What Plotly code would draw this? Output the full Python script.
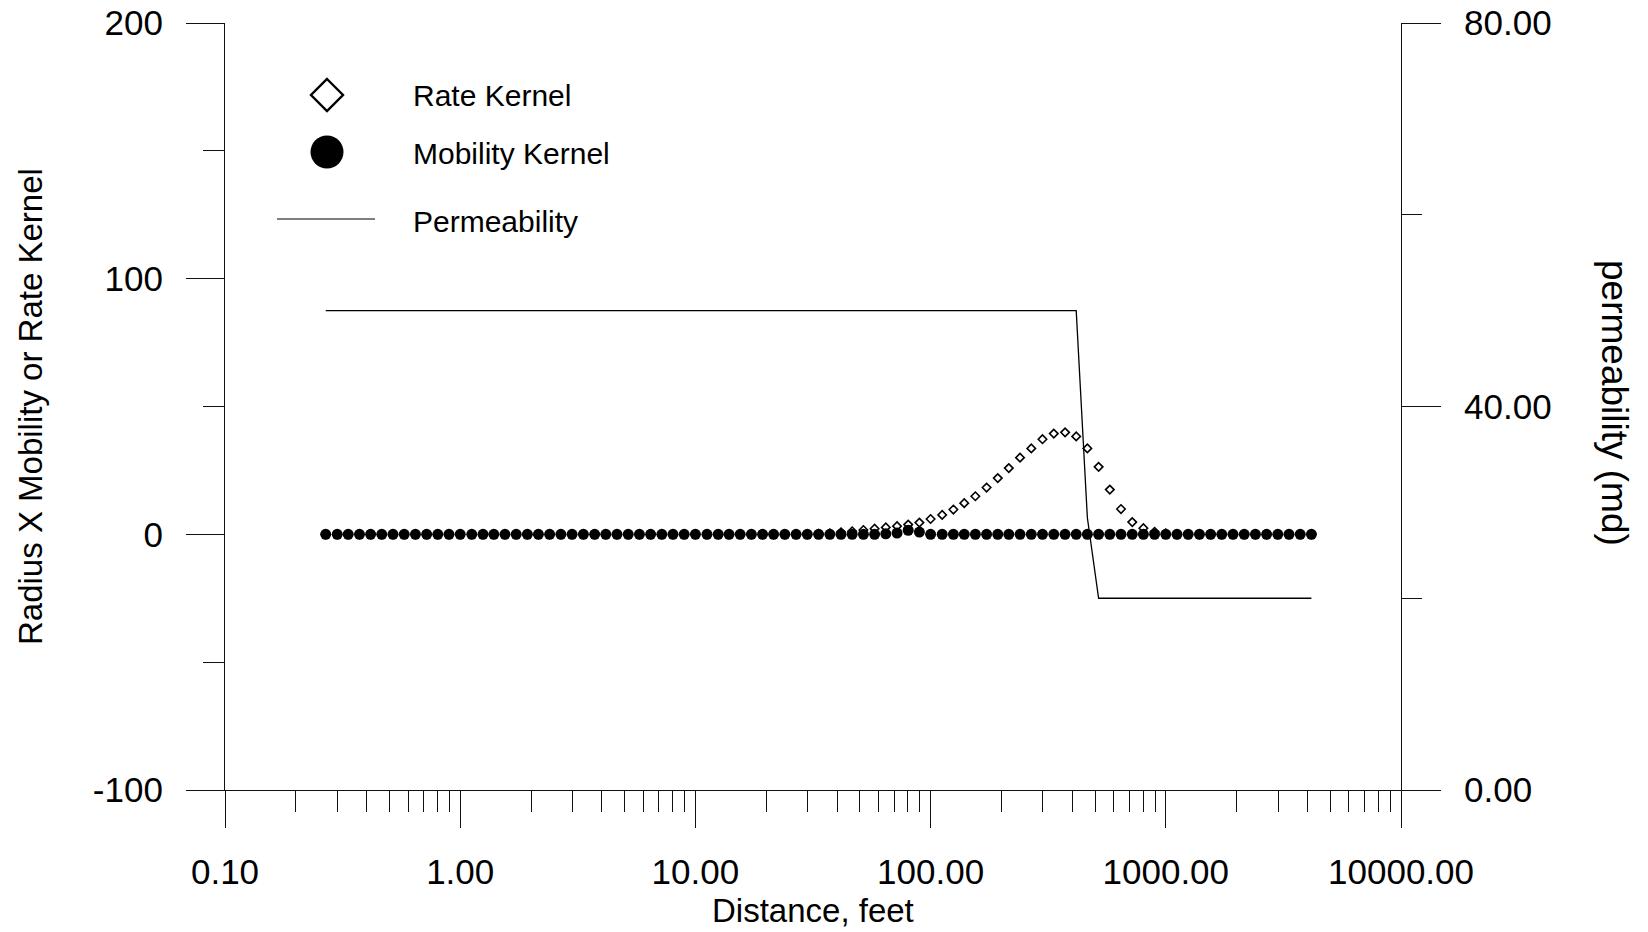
import plotly.graph_objects as go

# Radial distance from the well, feet (log-spaced grid, ~21 points per decade)
distance = [
    0.268, 0.300, 0.334, 0.373, 0.416, 0.464, 0.518, 0.578, 0.645, 0.720, 0.803, 0.896,
    1.00, 1.12, 1.25, 1.39, 1.55, 1.73, 1.93, 2.15, 2.40, 2.68, 2.99, 3.34, 3.73, 4.16,
    4.64, 5.18, 5.78, 6.45, 7.20, 8.03, 8.96,
    10.0, 11.2, 12.5, 13.9, 15.5, 17.3, 19.3, 21.5, 24.0, 26.8, 29.9, 33.4, 37.3, 41.6,
    46.4, 51.8, 57.8, 64.5, 72.0, 80.3, 89.6,
    100, 112, 125, 139, 155, 173, 193, 215, 240, 268, 299, 334, 373, 416,
    464, 518, 578, 645, 720, 803, 896,
    1000, 1116, 1245, 1390, 1551, 1730, 1931, 2155, 2404, 2683, 2994, 3341, 3728, 4160,
]

# Radius x rate kernel
rate_kernel = [
    0, 0, 0, 0, 0, 0, 0, 0, 0, 0, 0, 0,
    0, 0, 0, 0, 0, 0, 0, 0, 0, 0, 0, 0, 0, 0,
    0, 0, 0, 0, 0, 0, 0,
    0, 0, 0, 0, 0, 0, 0, 0, 0, 0, 0, 0.2, 0.4, 0.8,
    1.2, 1.7, 2.2, 2.7, 3.2, 3.8, 4.6,
    6.0, 7.6, 9.7, 12.2, 14.9, 18.3, 22.0, 25.9, 30.0, 33.6, 37.2, 39.4, 39.9, 38.3,
    33.6, 26.4, 17.5, 9.9, 4.8, 2.4, 1.0,
    0.4, 0, 0, 0, 0, 0, 0, 0, 0, 0, 0, 0, 0, 0,
]

# Radius x mobility kernel
mobility_kernel = [
    0, 0, 0, 0, 0, 0, 0, 0, 0, 0, 0, 0,
    0, 0, 0, 0, 0, 0, 0, 0, 0, 0, 0, 0, 0, 0,
    0, 0, 0, 0, 0, 0, 0,
    0, 0, 0, 0, 0, 0, 0, 0, 0, 0, 0, 0, 0, 0,
    0, 0, 0, 0.2, 0.5, 1.6, 0.9,
    0, 0, 0, 0, 0, 0, 0, 0, 0, 0, 0, 0, 0, 0,
    0, 0, 0, 0, 0, 0, 0,
    0, 0, 0, 0, 0, 0, 0, 0, 0, 0, 0, 0, 0, 0,
]

# Permeability profile, md
permeability = [
    50, 50, 50, 50, 50, 50, 50, 50, 50, 50, 50, 50,
    50, 50, 50, 50, 50, 50, 50, 50, 50, 50, 50, 50, 50, 50,
    50, 50, 50, 50, 50, 50, 50,
    50, 50, 50, 50, 50, 50, 50, 50, 50, 50, 50, 50, 50, 50,
    50, 50, 50, 50, 50, 50, 50,
    50, 50, 50, 50, 50, 50, 50, 50, 50, 50, 50, 50, 50, 50,
    28.4, 20, 20, 20, 20, 20, 20,
    20, 20, 20, 20, 20, 20, 20, 20, 20, 20, 20, 20, 20, 20,
]

x_major = [0.1, 1, 10, 100, 1000, 10000]
x_labels = ["0.10", "1.00", "10.00", "100.00", "1000.00", "10000.00"]
x_minor = [m * d for d in (0.1, 1, 10, 100, 1000) for m in range(2, 10)]

y_major = [-100, 0, 100, 200]
y_labels = ["-100", "0", "100", "200"]
y_minor = [-50, 50, 150]
y2_major = [0, 40, 80]
y2_labels = ["0.00", "40.00", "80.00"]
y2_minor = [20, 60]

W, H = 1648, 932
L, R, T, B = 225, 247, 23, 142
PW, PH = W - L - R, H - T - B
FONT = "Liberation Sans, Arial, sans-serif"
INK = "#111111"


def px_x(px):
    return (px - L) / PW


def px_y(py):
    return (H - B - py) / PH


fig = go.Figure()

fig.add_trace(go.Scatter(
    x=distance, y=rate_kernel, mode="markers", name="Rate Kernel",
    marker=dict(symbol="diamond-open", size=6.5, color="black",
                line=dict(width=1.6, color="black")),
    showlegend=False,
))
fig.add_trace(go.Scatter(
    x=distance, y=mobility_kernel, mode="markers", name="Mobility Kernel",
    marker=dict(symbol="circle", size=11, color="black", line=dict(width=0)),
    showlegend=False,
))
fig.add_trace(go.Scatter(
    x=distance, y=permeability, mode="lines", name="Permeability", yaxis="y2",
    line=dict(color="black", width=1.3),
    showlegend=False,
))

tick_font = dict(family=FONT, size=35, color="black")

fig.update_layout(
    width=W, height=H,
    margin=dict(l=L, r=R, t=T, b=B, autoexpand=False),
    paper_bgcolor="white", plot_bgcolor="white",
    showlegend=False,
    xaxis=dict(
        type="log", range=[-1, 4], automargin=False,
        tickvals=x_major, ticktext=x_labels,
        ticks="outside", ticklen=37, tickwidth=1.2, tickcolor=INK,
        showline=True, linecolor=INK, linewidth=1.2,
        showgrid=False, zeroline=False, tickfont=tick_font,
        ticklabelstandoff=14,
        minor=dict(tickvals=x_minor, ticks="outside", ticklen=21,
                   tickwidth=1.2, tickcolor=INK, showgrid=False),
    ),
    yaxis=dict(
        range=[-100, 200], automargin=False,
        tickvals=y_major, ticktext=y_labels,
        ticks="outside", ticklen=38, tickwidth=1.2, tickcolor=INK,
        showline=True, linecolor=INK, linewidth=1.2,
        showgrid=False, zeroline=False, tickfont=tick_font,
        ticklabelstandoff=16,
        minor=dict(tickvals=y_minor, ticks="outside", ticklen=21,
                   tickwidth=1.2, tickcolor=INK, showgrid=False),
    ),
    yaxis2=dict(
        overlaying="y", side="right", anchor="x", automargin=False,
        range=[0, 80], tickvals=y2_major, ticktext=y2_labels,
        ticks="outside", ticklen=39, tickwidth=1.2, tickcolor=INK,
        showline=True, linecolor=INK, linewidth=1.2,
        showgrid=False, zeroline=False, tickfont=tick_font,
        ticklabelstandoff=16,
        minor=dict(tickvals=y2_minor, ticks="outside", ticklen=20,
                   tickwidth=1.2, tickcolor=INK, showgrid=False),
    ),
)

# Axis titles
fig.add_annotation(x=px_x(813), y=px_y(910), xref="paper", yref="paper",
                   text="Distance, feet", showarrow=False,
                   xanchor="center", yanchor="middle",
                   font=dict(family=FONT, size=33, color="black"))
fig.add_annotation(x=px_x(31), y=px_y(407), xref="paper", yref="paper",
                   text="Radius X Mobility or Rate Kernel", showarrow=False,
                   textangle=-90, xanchor="center", yanchor="middle",
                   font=dict(family=FONT, size=33, color="black"))
fig.add_annotation(x=px_x(1615), y=px_y(403), xref="paper", yref="paper",
                   text="permeability (md)", showarrow=False,
                   textangle=90, xanchor="center", yanchor="middle",
                   font=dict(family=FONT, size=37, color="black"))

# Key
key_font = dict(family=FONT, size=30, color="black")
fig.add_shape(type="path", xref="paper", yref="paper",
              xsizemode="pixel", ysizemode="pixel",
              xanchor=px_x(327), yanchor=px_y(95),
              path="M 0 16 L 16 0 L 0 -16 L -16 0 Z",
              line=dict(color="black", width=2.4), fillcolor="white")
fig.add_shape(type="circle", xref="paper", yref="paper",
              xsizemode="pixel", ysizemode="pixel",
              xanchor=px_x(327), yanchor=px_y(152),
              x0=-16.5, x1=16.5, y0=-16.5, y1=16.5,
              line=dict(width=0), fillcolor="black")
fig.add_shape(type="line", xref="paper", yref="paper",
              x0=px_x(277), x1=px_x(375), y0=px_y(219), y1=px_y(219),
              line=dict(color="black", width=1.2))
for label, ypix in (("Rate Kernel", 96), ("Mobility Kernel", 153), ("Permeability", 221)):
    fig.add_annotation(x=px_x(411), y=px_y(ypix), xref="paper", yref="paper",
                       text=label, showarrow=False,
                       xanchor="left", yanchor="middle", font=key_font)

fig.write_html("out.html")
